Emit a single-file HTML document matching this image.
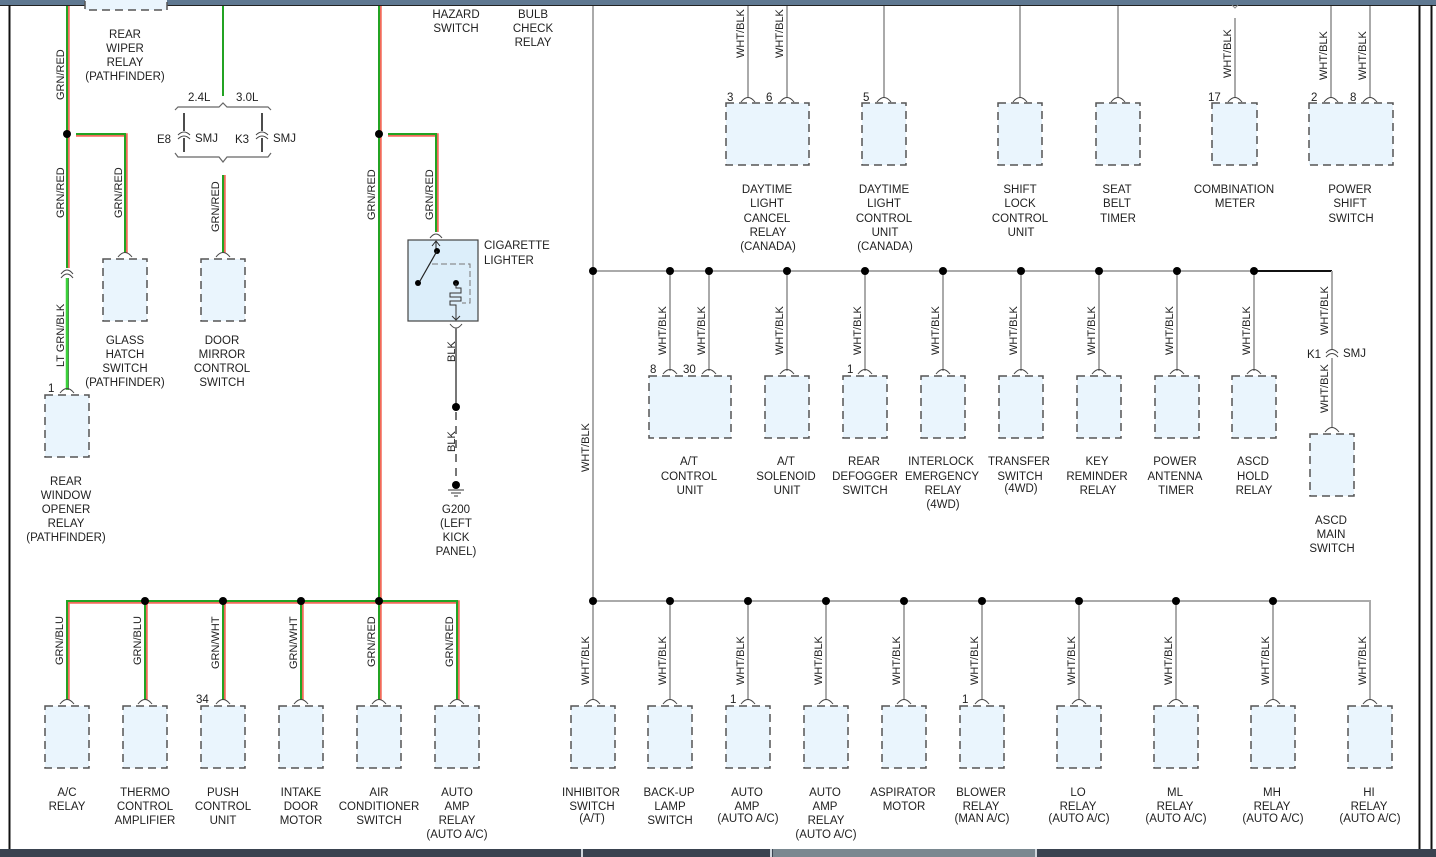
<!DOCTYPE html>
<html><head><meta charset="utf-8"><style>
html,body{margin:0;padding:0;background:#fff;width:1436px;height:857px;overflow:hidden}
svg{display:block}
text{font-family:"Liberation Sans",sans-serif;font-size:11.5px;fill:#222}
.c{text-anchor:middle}
.v{font-size:11px}
.bx{fill:#eaf5fd;stroke:#555;stroke-width:1.5;stroke-dasharray:8,5}
.w{stroke:#aaa;stroke-width:2;fill:none}
.gr{stroke:#f26a5a;stroke-width:3.5;fill:none}
.gg{stroke:#23a323;stroke-width:2;fill:none}
.arc{fill:none;stroke:#444;stroke-width:1}
</style></head><body>
<svg width="1436" height="857" viewBox="0 0 1436 857" xmlns="http://www.w3.org/2000/svg">
<rect x="0" y="0" width="1436" height="5" fill="#5f7891"/>
<line x1="0" y1="5.5" x2="1436" y2="5.5" stroke="#222" stroke-width="1"/>
<line x1="9.5" y1="5" x2="9.5" y2="849" stroke="#111" stroke-width="2"/>
<line x1="1419.5" y1="5" x2="1419.5" y2="849" stroke="#111" stroke-width="2"/>
<line x1="1431.5" y1="5" x2="1431.5" y2="849" stroke="#111" stroke-width="2"/>
<rect x="0" y="849" width="1436" height="8" fill="#3a4350"/>
<rect x="773" y="849" width="262" height="8" fill="#7a8890"/>
<rect x="581" y="849" width="2" height="8" fill="#cfd6dc"/>
<rect x="770" y="849" width="2" height="8" fill="#cfd6dc"/>
<rect x="1035" y="849" width="2" height="8" fill="#cfd6dc"/>

<rect class="bx" x="85" y="-20" width="82" height="30"/>
<text class="c" x="125" y="38">REAR</text><text class="c" x="125" y="52">WIPER</text><text class="c" x="125" y="66">RELAY</text><text class="c" x="125" y="80">(PATHFINDER)</text>

<line class="gr" x1="68" y1="6" x2="68" y2="268"/><line class="gg" x1="67" y1="6" x2="67" y2="268"/>
<line x1="67" y1="278" x2="67" y2="390" stroke="#3ad13a" stroke-width="2.5"/>
<line x1="68.5" y1="278" x2="68.5" y2="390" stroke="#2a7a2a" stroke-width="0.8"/>
<path class="arc" d="M61,274 Q67,266 73,274 M61,278 Q67,270 73,278"/>
<circle cx="67" cy="134" r="4" fill="#000"/>
<path class="gr" d="M76,135 H126 V253"/><path class="gg" d="M76,134 H125 V253"/>
<text class="v" transform="translate(64,100) rotate(-90)">GRN/RED</text>
<text class="v" transform="translate(64,218) rotate(-90)">GRN/RED</text>
<text class="v" transform="translate(122,218) rotate(-90)">GRN/RED</text>
<text class="v" transform="translate(64,367) rotate(-90)">LT GRN/BLK</text>

<path class="arc" d="M60,393 Q67,384 74,393"/>
<rect class="bx" x="45" y="395" width="44" height="62"/>
<text x="48" y="392">1</text>
<text class="c" x="66" y="485">REAR</text><text class="c" x="66" y="499">WINDOW</text><text class="c" x="66" y="513">OPENER</text><text class="c" x="66" y="527">RELAY</text><text class="c" x="66" y="541">(PATHFINDER)</text>

<path class="arc" d="M118,257 Q125,248 132,257"/>
<rect class="bx" x="103" y="259" width="44" height="62"/>
<text class="c" x="125" y="344">GLASS</text><text class="c" x="125" y="358">HATCH</text><text class="c" x="125" y="372">SWITCH</text><text class="c" x="125" y="386">(PATHFINDER)</text>

<line x1="223" y1="6" x2="223" y2="96" stroke="#23a323" stroke-width="2"/>
<text x="188" y="101">2.4L</text><text x="236" y="101">3.0L</text>
<path d="M175,110 L178,107 H219 L223,103 L227,107 H268 L271,110" fill="none" stroke="#666" stroke-width="1.2"/>
<path d="M175,153 L178,157 H219 L223,162 L227,157 H268 L271,153" fill="none" stroke="#666" stroke-width="1.2"/>
<line x1="184" y1="113" x2="184" y2="131" stroke="#111" stroke-width="1.5"/><line x1="184" y1="138" x2="184" y2="152" stroke="#111" stroke-width="1.5"/>
<path class="arc" d="M178,135 Q184,129 190,135 M178,139 Q184,133 190,139" stroke="#111"/>
<line x1="262" y1="113" x2="262" y2="131" stroke="#111" stroke-width="1.5"/><line x1="262" y1="138" x2="262" y2="152" stroke="#111" stroke-width="1.5"/>
<path class="arc" d="M256,135 Q262,129 268,135 M256,139 Q262,133 268,139" stroke="#111"/>
<text x="157" y="143">E8</text><text x="195" y="142">SMJ</text>
<text x="235" y="143">K3</text><text x="273" y="142">SMJ</text>
<line class="gr" x1="224" y1="175" x2="224" y2="253"/><line class="gg" x1="223" y1="175" x2="223" y2="253"/>
<text class="v" transform="translate(219,232) rotate(-90)">GRN/RED</text>
<path class="arc" d="M216,257 Q223,248 230,257"/>
<rect class="bx" x="201" y="259" width="44" height="62"/>
<text class="c" x="222" y="344">DOOR</text><text class="c" x="222" y="358">MIRROR</text><text class="c" x="222" y="372">CONTROL</text><text class="c" x="222" y="386">SWITCH</text>

<line class="gr" x1="380" y1="6" x2="380" y2="700"/><line class="gg" x1="379" y1="6" x2="379" y2="700"/>
<circle cx="379" cy="134" r="4" fill="#000"/>
<path class="gr" d="M388,135 H437 V232"/><path class="gg" d="M388,134 H436 V232"/>
<text class="v" transform="translate(375,220) rotate(-90)">GRN/RED</text>
<text class="v" transform="translate(433,220) rotate(-90)">GRN/RED</text>
<text class="c" x="456" y="18">HAZARD</text><text class="c" x="456" y="32">SWITCH</text>
<text class="c" x="533" y="18">BULB</text><text class="c" x="533" y="32">CHECK</text><text class="c" x="533" y="46">RELAY</text>
<path class="arc" d="M430,238 Q436,230 442,238"/>
<rect x="408" y="240" width="70" height="81" fill="#dceefa" stroke="#444" stroke-width="1.2"/>
<path d="M436,241 V250 M432,246 L436,241 L440,246" fill="none" stroke="#222" stroke-width="1"/>
<circle cx="437" cy="251" r="3" fill="#000"/><circle cx="418" cy="283" r="3" fill="#000"/>
<line x1="437" y1="251" x2="420" y2="281" stroke="#222" stroke-width="1.2"/>
<path d="M432,264 H470 V303 H462" fill="none" stroke="#777" stroke-width="1" stroke-dasharray="6,3"/>
<circle cx="456" cy="283" r="3" fill="#000"/>
<path d="M456,283 V288 H461 V293 H450 V297 H461 V301 H450 V305 H456 V320 M452,316 L456,320 L460,316" fill="none" stroke="#333" stroke-width="1"/>
<path class="arc" d="M450,324 Q456,332 462,324"/>
<line x1="456" y1="328" x2="456" y2="404" stroke="#777" stroke-width="2"/>
<circle cx="456" cy="407" r="4" fill="#000"/>
<line x1="456" y1="412" x2="456" y2="484" stroke="#777" stroke-width="2" stroke-dasharray="8,6"/>
<text class="v" transform="translate(455,362) rotate(-90)">BLK</text>
<text class="v" transform="translate(455,452) rotate(-90)">BLK</text>
<circle cx="456" cy="485" r="4" fill="#000"/>
<path d="M448,490 H464 M451,493 H461 M454,496 H458" stroke="#333" stroke-width="1"/>
<text class="c" x="456" y="513">G200</text><text class="c" x="456" y="527">(LEFT</text><text class="c" x="456" y="541">KICK</text><text class="c" x="456" y="555">PANEL)</text>
<text x="484" y="249">CIGARETTE</text><text x="484" y="264">LIGHTER</text>

<path class="gr" d="M68,700 V602 H458 V700"/><path class="gg" d="M67,700 V601 H457 V700"/>
<line class="gr" x1="146" y1="601" x2="146" y2="700"/><line class="gg" x1="145" y1="601" x2="145" y2="700"/>
<line class="gr" x1="224" y1="601" x2="224" y2="700"/><line class="gg" x1="223" y1="601" x2="223" y2="700"/>
<line class="gr" x1="302" y1="601" x2="302" y2="700"/><line class="gg" x1="301" y1="601" x2="301" y2="700"/>
<circle cx="145" cy="601" r="4" fill="#000"/><circle cx="223" cy="601" r="4" fill="#000"/><circle cx="301" cy="601" r="4" fill="#000"/><circle cx="379" cy="601" r="4" fill="#000"/>
<text class="v" transform="translate(63,665) rotate(-90)">GRN/BLU</text>
<text class="v" transform="translate(141,665) rotate(-90)">GRN/BLU</text>
<text class="v" transform="translate(219,669) rotate(-90)">GRN/WHT</text>
<text class="v" transform="translate(297,669) rotate(-90)">GRN/WHT</text>
<text class="v" transform="translate(375,667) rotate(-90)">GRN/RED</text>
<text class="v" transform="translate(453,667) rotate(-90)">GRN/RED</text>
<path class="arc" d="M60,704 Q67,695 74,704 M138,704 Q145,695 152,704 M216,704 Q223,695 230,704 M294,704 Q301,695 308,704 M372,704 Q379,695 386,704 M450,704 Q457,695 464,704"/>
<rect class="bx" x="45" y="706" width="44" height="62"/><rect class="bx" x="123" y="706" width="44" height="62"/><rect class="bx" x="201" y="706" width="44" height="62"/><rect class="bx" x="279" y="706" width="44" height="62"/><rect class="bx" x="357" y="706" width="44" height="62"/><rect class="bx" x="435" y="706" width="44" height="62"/>
<text x="196" y="703">34</text>
<text class="c" x="67" y="796">A/C</text><text class="c" x="67" y="810">RELAY</text>
<text class="c" x="145" y="796">THERMO</text><text class="c" x="145" y="810">CONTROL</text><text class="c" x="145" y="824">AMPLIFIER</text>
<text class="c" x="223" y="796">PUSH</text><text class="c" x="223" y="810">CONTROL</text><text class="c" x="223" y="824">UNIT</text>
<text class="c" x="301" y="796">INTAKE</text><text class="c" x="301" y="810">DOOR</text><text class="c" x="301" y="824">MOTOR</text>
<text class="c" x="379" y="796">AIR</text><text class="c" x="379" y="810">CONDITIONER</text><text class="c" x="379" y="824">SWITCH</text>
<text class="c" x="457" y="796">AUTO</text><text class="c" x="457" y="810">AMP</text><text class="c" x="457" y="824">RELAY</text><text class="c" x="457" y="838">(AUTO A/C)</text>

<line class="w" x1="593" y1="6" x2="593" y2="601"/>
<text class="v" transform="translate(589,472) rotate(-90)">WHT/BLK</text>
<g class="w">
<line x1="748" y1="6" x2="748" y2="98"/><line x1="787" y1="6" x2="787" y2="98"/><line x1="884" y1="6" x2="884" y2="98"/><line x1="1020" y1="6" x2="1020" y2="98"/><line x1="1118" y1="6" x2="1118" y2="98"/><line x1="1235" y1="18" x2="1235" y2="98"/><line x1="1331" y1="6" x2="1331" y2="98"/><line x1="1370" y1="6" x2="1370" y2="98"/>
</g>
<path d="M1232,5 L1235,8 L1238,5" fill="none" stroke="#888" stroke-width="1"/>
<text class="v" transform="translate(744,58) rotate(-90)">WHT/BLK</text>
<text class="v" transform="translate(783,58) rotate(-90)">WHT/BLK</text>
<text class="v" transform="translate(1231,78) rotate(-90)">WHT/BLK</text>
<text class="v" transform="translate(1327,80) rotate(-90)">WHT/BLK</text>
<text class="v" transform="translate(1366,80) rotate(-90)">WHT/BLK</text>
<path class="arc" d="M741,102 Q748,93 755,102 M780,102 Q787,93 794,102 M877,102 Q884,93 891,102 M1013,102 Q1020,93 1027,102 M1111,102 Q1118,93 1125,102 M1228,102 Q1235,93 1242,102 M1324,102 Q1331,93 1338,102 M1363,102 Q1370,93 1377,102"/>
<rect class="bx" x="726" y="103" width="83" height="62"/>
<rect class="bx" x="862" y="103" width="44" height="62"/>
<rect class="bx" x="998" y="103" width="44" height="62"/>
<rect class="bx" x="1096" y="103" width="44" height="62"/>
<rect class="bx" x="1212" y="103" width="45" height="62"/>
<rect class="bx" x="1309" y="103" width="84" height="62"/>
<text x="727" y="101">3</text><text x="766" y="101">6</text><text x="863" y="101">5</text><text x="1208" y="101">17</text><text x="1311" y="101">2</text><text x="1350" y="101">8</text>
<text class="c" x="767" y="193">DAYTIME</text><text class="c" x="767" y="207">LIGHT</text><text class="c" x="767" y="222">CANCEL</text><text class="c" x="768" y="236">RELAY</text><text class="c" x="768" y="250">(CANADA)</text>
<text class="c" x="884" y="193">DAYTIME</text><text class="c" x="884" y="207">LIGHT</text><text class="c" x="884" y="222">CONTROL</text><text class="c" x="885" y="236">UNIT</text><text class="c" x="885" y="250">(CANADA)</text>
<text class="c" x="1020" y="193">SHIFT</text><text class="c" x="1020" y="207">LOCK</text><text class="c" x="1020" y="222">CONTROL</text><text class="c" x="1021" y="236">UNIT</text>
<text class="c" x="1117" y="193">SEAT</text><text class="c" x="1117" y="207">BELT</text><text class="c" x="1118" y="222">TIMER</text>
<text class="c" x="1234" y="193">COMBINATION</text><text class="c" x="1235" y="207">METER</text>
<text class="c" x="1350" y="193">POWER</text><text class="c" x="1350" y="207">SHIFT</text><text class="c" x="1351" y="222">SWITCH</text>

<line class="w" x1="593" y1="271" x2="1254" y2="271"/>
<line x1="1254" y1="271" x2="1332" y2="271" stroke="#111" stroke-width="2"/>
<line class="w" x1="1332" y1="271" x2="1332" y2="350"/>
<line class="w" x1="1332" y1="358" x2="1332" y2="428"/>
<path class="arc" d="M1326,353 Q1332,346 1338,353 M1326,357 Q1332,350 1338,357"/>
<text x="1307" y="358">K1</text><text x="1343" y="357">SMJ</text>
<text class="v" transform="translate(1328,335) rotate(-90)">WHT/BLK</text>
<text class="v" transform="translate(1328,413) rotate(-90)">WHT/BLK</text>
<path class="arc" d="M1325,432 Q1332,423 1339,432"/>
<rect class="bx" x="1310" y="434" width="44" height="62"/>
<text class="c" x="1331" y="524">ASCD</text><text class="c" x="1331" y="538">MAIN</text><text class="c" x="1332" y="552">SWITCH</text>
<g class="w">
<line x1="670" y1="271" x2="670" y2="371"/><line x1="709" y1="271" x2="709" y2="371"/><line x1="787" y1="271" x2="787" y2="371"/><line x1="865" y1="271" x2="865" y2="371"/><line x1="943" y1="271" x2="943" y2="371"/><line x1="1021" y1="271" x2="1021" y2="371"/><line x1="1099" y1="271" x2="1099" y2="371"/><line x1="1177" y1="271" x2="1177" y2="371"/><line x1="1254" y1="271" x2="1254" y2="371"/>
</g>
<g fill="#000"><circle cx="593" cy="271" r="4"/><circle cx="670" cy="271" r="4"/><circle cx="709" cy="271" r="4"/><circle cx="787" cy="271" r="4"/><circle cx="865" cy="271" r="4"/><circle cx="943" cy="271" r="4"/><circle cx="1021" cy="271" r="4"/><circle cx="1099" cy="271" r="4"/><circle cx="1177" cy="271" r="4"/><circle cx="1254" cy="271" r="4"/></g>
<text class="v" transform="translate(666,355) rotate(-90)">WHT/BLK</text>
<text class="v" transform="translate(705,355) rotate(-90)">WHT/BLK</text>
<text class="v" transform="translate(783,355) rotate(-90)">WHT/BLK</text>
<text class="v" transform="translate(861,355) rotate(-90)">WHT/BLK</text>
<text class="v" transform="translate(939,355) rotate(-90)">WHT/BLK</text>
<text class="v" transform="translate(1017,355) rotate(-90)">WHT/BLK</text>
<text class="v" transform="translate(1095,355) rotate(-90)">WHT/BLK</text>
<text class="v" transform="translate(1173,355) rotate(-90)">WHT/BLK</text>
<text class="v" transform="translate(1250,355) rotate(-90)">WHT/BLK</text>
<path class="arc" d="M663,374 Q670,365 677,374 M702,374 Q709,365 716,374 M780,374 Q787,365 794,374 M858,374 Q865,365 872,374 M936,374 Q943,365 950,374 M1014,374 Q1021,365 1028,374 M1092,374 Q1099,365 1106,374 M1170,374 Q1177,365 1184,374 M1247,374 Q1254,365 1261,374"/>
<rect class="bx" x="649" y="376" width="82" height="62"/>
<rect class="bx" x="765" y="376" width="44" height="62"/>
<rect class="bx" x="843" y="376" width="44" height="62"/>
<rect class="bx" x="921" y="376" width="44" height="62"/>
<rect class="bx" x="999" y="376" width="44" height="62"/>
<rect class="bx" x="1077" y="376" width="44" height="62"/>
<rect class="bx" x="1155" y="376" width="44" height="62"/>
<rect class="bx" x="1232" y="376" width="44" height="62"/>
<text x="650" y="373">8</text><text x="683" y="373">30</text><text x="847" y="373">1</text>
<text class="c" x="689" y="465">A/T</text><text class="c" x="689" y="480">CONTROL</text><text class="c" x="690" y="494">UNIT</text>
<text class="c" x="786" y="465">A/T</text><text class="c" x="786" y="480">SOLENOID</text><text class="c" x="787" y="494">UNIT</text>
<text class="c" x="864" y="465">REAR</text><text class="c" x="865" y="480">DEFOGGER</text><text class="c" x="865" y="494">SWITCH</text>
<text class="c" x="941" y="465">INTERLOCK</text><text class="c" x="942" y="480">EMERGENCY</text><text class="c" x="943" y="494">RELAY</text><text class="c" x="943" y="508">(4WD)</text>
<text class="c" x="1019" y="465">TRANSFER</text><text class="c" x="1020" y="480">SWITCH</text><text class="c" x="1021" y="492">(4WD)</text>
<text class="c" x="1097" y="465">KEY</text><text class="c" x="1097" y="480">REMINDER</text><text class="c" x="1098" y="494">RELAY</text>
<text class="c" x="1175" y="465">POWER</text><text class="c" x="1175" y="480">ANTENNA</text><text class="c" x="1176" y="494">TIMER</text>
<text class="c" x="1253" y="465">ASCD</text><text class="c" x="1253" y="480">HOLD</text><text class="c" x="1254" y="494">RELAY</text>

<path class="w" d="M593,601 H1370 V700"/>
<g class="w">
<line x1="593" y1="601" x2="593" y2="700"/><line x1="670" y1="601" x2="670" y2="700"/><line x1="748" y1="601" x2="748" y2="700"/><line x1="826" y1="601" x2="826" y2="700"/><line x1="904" y1="601" x2="904" y2="700"/><line x1="982" y1="601" x2="982" y2="700"/><line x1="1079" y1="601" x2="1079" y2="700"/><line x1="1176" y1="601" x2="1176" y2="700"/><line x1="1273" y1="601" x2="1273" y2="700"/>
</g>
<g fill="#000"><circle cx="593" cy="601" r="4"/><circle cx="670" cy="601" r="4"/><circle cx="748" cy="601" r="4"/><circle cx="826" cy="601" r="4"/><circle cx="904" cy="601" r="4"/><circle cx="982" cy="601" r="4"/><circle cx="1079" cy="601" r="4"/><circle cx="1176" cy="601" r="4"/><circle cx="1273" cy="601" r="4"/></g>
<text class="v" transform="translate(589,685) rotate(-90)">WHT/BLK</text>
<text class="v" transform="translate(666,685) rotate(-90)">WHT/BLK</text>
<text class="v" transform="translate(744,685) rotate(-90)">WHT/BLK</text>
<text class="v" transform="translate(822,685) rotate(-90)">WHT/BLK</text>
<text class="v" transform="translate(900,685) rotate(-90)">WHT/BLK</text>
<text class="v" transform="translate(978,685) rotate(-90)">WHT/BLK</text>
<text class="v" transform="translate(1075,685) rotate(-90)">WHT/BLK</text>
<text class="v" transform="translate(1172,685) rotate(-90)">WHT/BLK</text>
<text class="v" transform="translate(1269,685) rotate(-90)">WHT/BLK</text>
<text class="v" transform="translate(1366,685) rotate(-90)">WHT/BLK</text>
<path class="arc" d="M586,704 Q593,695 600,704 M663,704 Q670,695 677,704 M741,704 Q748,695 755,704 M819,704 Q826,695 833,704 M897,704 Q904,695 911,704 M975,704 Q982,695 989,704 M1072,704 Q1079,695 1086,704 M1169,704 Q1176,695 1183,704 M1266,704 Q1273,695 1280,704 M1363,704 Q1370,695 1377,704"/>
<rect class="bx" x="571" y="706" width="44" height="62"/>
<rect class="bx" x="648" y="706" width="44" height="62"/>
<rect class="bx" x="726" y="706" width="44" height="62"/>
<rect class="bx" x="804" y="706" width="44" height="62"/>
<rect class="bx" x="882" y="706" width="44" height="62"/>
<rect class="bx" x="960" y="706" width="44" height="62"/>
<rect class="bx" x="1057" y="706" width="44" height="62"/>
<rect class="bx" x="1154" y="706" width="44" height="62"/>
<rect class="bx" x="1251" y="706" width="44" height="62"/>
<rect class="bx" x="1348" y="706" width="44" height="62"/>
<text x="730" y="703">1</text><text x="962" y="703">1</text>
<text class="c" x="591" y="796">INHIBITOR</text><text class="c" x="592" y="810">SWITCH</text><text class="c" x="592" y="822">(A/T)</text>
<text class="c" x="669" y="796">BACK-UP</text><text class="c" x="670" y="810">LAMP</text><text class="c" x="670" y="824">SWITCH</text>
<text class="c" x="747" y="796">AUTO</text><text class="c" x="747" y="810">AMP</text><text class="c" x="748" y="822">(AUTO A/C)</text>
<text class="c" x="825" y="796">AUTO</text><text class="c" x="825" y="810">AMP</text><text class="c" x="826" y="824">RELAY</text><text class="c" x="826" y="838">(AUTO A/C)</text>
<text class="c" x="903" y="796">ASPIRATOR</text><text class="c" x="904" y="810">MOTOR</text>
<text class="c" x="981" y="796">BLOWER</text><text class="c" x="981" y="810">RELAY</text><text class="c" x="982" y="822">(MAN A/C)</text>
<text class="c" x="1078" y="796">LO</text><text class="c" x="1078" y="810">RELAY</text><text class="c" x="1079" y="822">(AUTO A/C)</text>
<text class="c" x="1175" y="796">ML</text><text class="c" x="1175" y="810">RELAY</text><text class="c" x="1176" y="822">(AUTO A/C)</text>
<text class="c" x="1272" y="796">MH</text><text class="c" x="1272" y="810">RELAY</text><text class="c" x="1273" y="822">(AUTO A/C)</text>
<text class="c" x="1369" y="796">HI</text><text class="c" x="1369" y="810">RELAY</text><text class="c" x="1370" y="822">(AUTO A/C)</text>
</svg>
</body></html>
